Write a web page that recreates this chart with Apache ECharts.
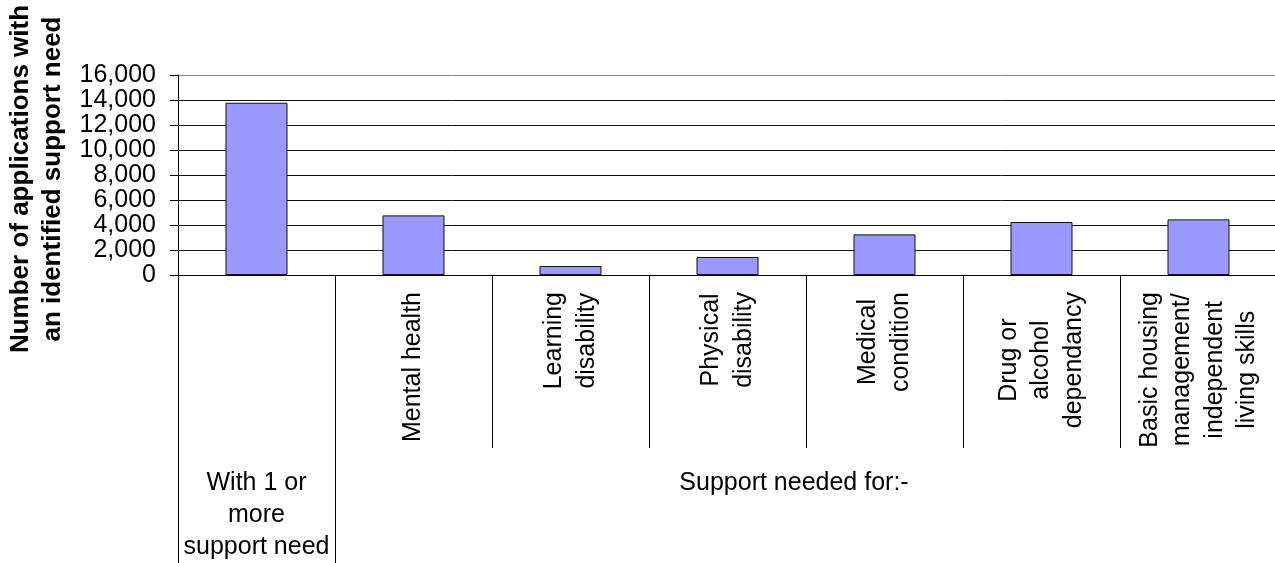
<!DOCTYPE html>
<html>
<head>
<meta charset="utf-8">
<script src="https://cdn.jsdelivr.net/npm/echarts@6/dist/echarts.min.js"></script>
<style>
html,body{margin:0;padding:0;background:#fff;}
#chart{width:1275px;height:563px;}
</style>
</head>
<body>
<div id="chart"></div>
<script>
const categories = [
  'With 1 or more support need',
  'Mental health',
  'Learning\ndisability',
  'Physical\ndisability',
  'Medical\ncondition',
  'Drug or\nalcohol\ndependancy',
  'Basic housing\nmanagement/\nindependent\nliving skills'
];
const values = [13780, 4770, 720, 1440, 3250, 4240, 4450];
const groupLabels = ['With 1 or\nmore\nsupport need', 'Support needed for:-'];
const groupLabelIndex = [0, 3];
const yTicks = [0, 2000, 4000, 6000, 8000, 10000, 12000, 14000, 16000];
const yTitle = 'Number of applications with\nan identified support need';

const FONT = '"Liberation Sans", Arial, sans-serif';
const LABEL_SIZE = 25;

// Build per-line rich styles so each line of a rotated label is centred in its block
const mctx = document.createElement('canvas').getContext('2d');
mctx.font = LABEL_SIZE + 'px "Liberation Sans", Arial, sans-serif';
const labelRich = {};
categories.forEach(function (c, i) {
  const lines = c.split('\n');
  const widths = lines.map(function (l) { return mctx.measureText(l).width; });
  const w = Math.max.apply(null, widths);
  lines.forEach(function (l, j) {
    const pad = (w - widths[j]) / 2;
    labelRich['r' + i + '_' + j] = {
      fontFamily: FONT, fontSize: LABEL_SIZE, lineHeight: 32.5, color: '#000',
      align: 'center', padding: [0, pad, 0, pad]
    };
  });
});

// grid line colours: top line is lighter in the reference
const splitColors = yTicks.map(function (t, k) { return k === yTicks.length - 1 ? '#888' : '#111'; });

const chart = echarts.init(document.getElementById('chart'), null, {renderer: 'canvas'});

const option = {
  animation: false,
  backgroundColor: '#fff',
  grid: {left: 178, right: -2, top: 75, bottom: 288, containLabel: false, outerBoundsMode: 'none'},
  xAxis: [
    {
      type: 'category',
      data: categories,
      position: 'bottom',
      axisLine: {show: true, lineStyle: {color: '#000', width: 1}},
      axisTick: {show: true, length: 173, interval: 0, lineStyle: {color: '#000', width: 1}},
      axisLabel: {
        interval: 0,
        rotate: 90,
        margin: 17,
        color: '#000',
        fontFamily: FONT,
        fontSize: LABEL_SIZE,
        lineHeight: 32.5,
        formatter: function (v, i) {
          if (i === 0) return '';
          return v.split('\n').map(function (l, j) { return '{r' + i + '_' + j + '|' + l + '}'; }).join('\n');
        },
        rich: labelRich
      }
    },
    {
      type: 'category',
      data: categories,
      position: 'bottom',
      axisLine: {show: false},
      axisTick: {show: true, length: 290, interval: function (i) { return i === 0 || i === 1; }, lineStyle: {color: '#000', width: 1}},
      axisLabel: {
        interval: 0,
        margin: 192,
        color: '#000',
        fontFamily: FONT,
        fontSize: LABEL_SIZE,
        lineHeight: 32,
        formatter: function (v, i) {
          if (i === groupLabelIndex[0]) return groupLabels[0];
          if (i === groupLabelIndex[1]) return '{g|' + groupLabels[1] + '}';
          return '';
        },
        rich: {g: {fontFamily: FONT, fontSize: LABEL_SIZE, lineHeight: 32, color: '#000', padding: [0, 0, 0, 133]}}
      }
    }
  ],
  yAxis: {
    type: 'value',
    min: yTicks[0],
    max: yTicks[yTicks.length - 1],
    interval: yTicks[1] - yTicks[0],
    name: yTitle,
    nameLocation: 'middle',
    nameRotate: 90,
    nameGap: 108,
    nameTextStyle: {fontFamily: FONT, fontSize: 26, fontWeight: 'bold', color: '#000', lineHeight: 32, padding: [0, 8, 0, 0]},
    axisLine: {show: true, lineStyle: {color: '#000', width: 1}},
    axisTick: {show: true, length: 8, lineStyle: {color: '#000', width: 1}},
    axisLabel: {
      margin: 22,
      color: '#000',
      fontFamily: FONT,
      fontSize: LABEL_SIZE,
      formatter: function (v) { return v.toLocaleString('en-US'); }
    },
    splitLine: {show: true, lineStyle: {color: splitColors, width: 1}}
  },
  series: [{
    type: 'bar',
    data: values,
    xAxisIndex: 0,
    barWidth: '39.5%',
    itemStyle: {color: '#9999FF', borderColor: '#111', borderWidth: 1}
  }]
};
chart.setOption(option);
</script>
</body>
</html>
